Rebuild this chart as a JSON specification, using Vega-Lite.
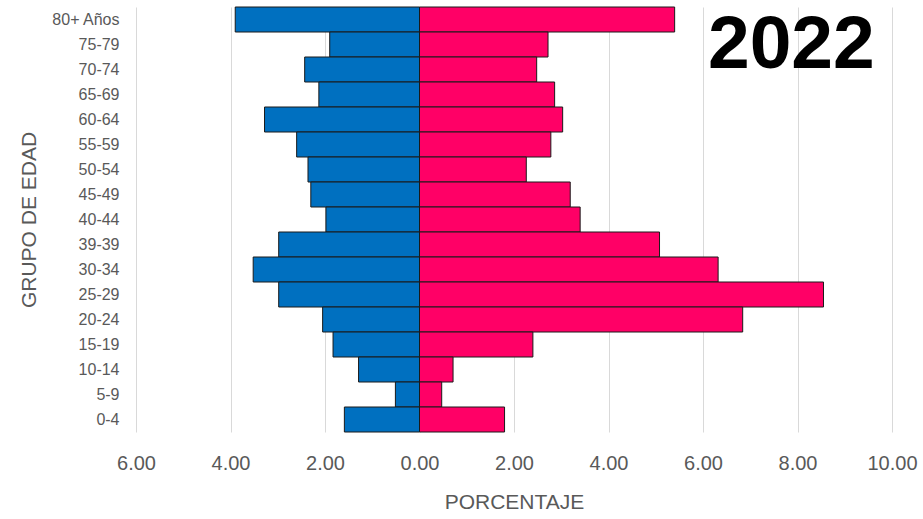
{
  "$schema": "https://vega.github.io/schema/vega-lite/v6.json",
  "width": 756,
  "height": 425,
  "autosize": {"type": "none"},
  "padding": {"left": 136, "top": 7, "right": 31, "bottom": 87},
  "background": "white",
  "config": {
    "view": {"stroke": null},
    "font": "Liberation Sans"
  },
  "datasets": {
    "pyramid": [
      {"grupo": "80+ Años", "sexo": "Hombres", "porcentaje": -3.90},
      {"grupo": "75-79", "sexo": "Hombres", "porcentaje": -1.90},
      {"grupo": "70-74", "sexo": "Hombres", "porcentaje": -2.43},
      {"grupo": "65-69", "sexo": "Hombres", "porcentaje": -2.13},
      {"grupo": "60-64", "sexo": "Hombres", "porcentaje": -3.28},
      {"grupo": "55-59", "sexo": "Hombres", "porcentaje": -2.60},
      {"grupo": "50-54", "sexo": "Hombres", "porcentaje": -2.36},
      {"grupo": "45-49", "sexo": "Hombres", "porcentaje": -2.30},
      {"grupo": "40-44", "sexo": "Hombres", "porcentaje": -1.98},
      {"grupo": "39-39", "sexo": "Hombres", "porcentaje": -2.98},
      {"grupo": "30-34", "sexo": "Hombres", "porcentaje": -3.52},
      {"grupo": "25-29", "sexo": "Hombres", "porcentaje": -2.98},
      {"grupo": "20-24", "sexo": "Hombres", "porcentaje": -2.05},
      {"grupo": "15-19", "sexo": "Hombres", "porcentaje": -1.83},
      {"grupo": "10-14", "sexo": "Hombres", "porcentaje": -1.29},
      {"grupo": "5-9", "sexo": "Hombres", "porcentaje": -0.51},
      {"grupo": "0-4", "sexo": "Hombres", "porcentaje": -1.59},
      {"grupo": "80+ Años", "sexo": "Mujeres", "porcentaje": 5.40},
      {"grupo": "75-79", "sexo": "Mujeres", "porcentaje": 2.72},
      {"grupo": "70-74", "sexo": "Mujeres", "porcentaje": 2.48},
      {"grupo": "65-69", "sexo": "Mujeres", "porcentaje": 2.86},
      {"grupo": "60-64", "sexo": "Mujeres", "porcentaje": 3.03},
      {"grupo": "55-59", "sexo": "Mujeres", "porcentaje": 2.78},
      {"grupo": "50-54", "sexo": "Mujeres", "porcentaje": 2.26},
      {"grupo": "45-49", "sexo": "Mujeres", "porcentaje": 3.19},
      {"grupo": "40-44", "sexo": "Mujeres", "porcentaje": 3.40},
      {"grupo": "39-39", "sexo": "Mujeres", "porcentaje": 5.08},
      {"grupo": "30-34", "sexo": "Mujeres", "porcentaje": 6.32},
      {"grupo": "25-29", "sexo": "Mujeres", "porcentaje": 8.55},
      {"grupo": "20-24", "sexo": "Mujeres", "porcentaje": 6.84},
      {"grupo": "15-19", "sexo": "Mujeres", "porcentaje": 2.40},
      {"grupo": "10-14", "sexo": "Mujeres", "porcentaje": 0.71},
      {"grupo": "5-9", "sexo": "Mujeres", "porcentaje": 0.47},
      {"grupo": "0-4", "sexo": "Mujeres", "porcentaje": 1.80}
    ],
    "titulo": [{"texto": "2022"}]
  },
  "layer": [
    {
      "data": {"name": "pyramid"},
      "mark": {"type": "bar", "stroke": "#1a1a1a", "strokeWidth": 1},
      "encoding": {
        "y": {
          "field": "grupo",
          "type": "nominal",
          "sort": ["80+ Años", "75-79", "70-74", "65-69", "60-64", "55-59", "50-54", "45-49", "40-44", "39-39", "30-34", "25-29", "20-24", "15-19", "10-14", "5-9", "0-4"],
          "scale": {"paddingInner": 0, "paddingOuter": 0},
          "axis": {
            "title": "GRUPO DE EDAD",
            "titleFont": "Liberation Sans",
            "titleFontSize": 21,
            "titleFontWeight": "normal",
            "titleColor": "#595959",
            "titlePadding": 11,
            "labelFont": "Liberation Sans",
            "labelFontSize": 16,
            "labelColor": "#595959",
            "labelPadding": 17,
            "ticks": false,
            "tickSize": 0,
            "domain": false,
            "grid": false
          }
        },
        "x": {
          "field": "porcentaje",
          "type": "quantitative",
          "scale": {"domain": [-6, 10], "nice": false, "zero": false},
          "axis": {
            "title": "PORCENTAJE",
            "titleFont": "Liberation Sans",
            "titleFontSize": 21,
            "titleFontWeight": "normal",
            "titleColor": "#595959",
            "titlePadding": 18,
            "values": [-6, -4, -2, 0, 2, 4, 6, 8, 10],
            "labelExpr": "format(abs(datum.value), '.2f')",
            "labelFlush": false,
            "labelFont": "Liberation Sans",
            "labelFontSize": 20,
            "labelColor": "#595959",
            "labelPadding": 21,
            "ticks": false,
            "tickSize": 0,
            "domain": false,
            "grid": true,
            "gridColor": "#D9D9D9",
            "gridWidth": 1
          }
        },
        "color": {
          "field": "sexo",
          "type": "nominal",
          "scale": {"domain": ["Hombres", "Mujeres"], "range": ["#0070C0", "#FF0066"]},
          "legend": null
        }
      }
    },
    {
      "data": {"name": "titulo"},
      "mark": {"type": "text", "font": "Liberation Sans", "fontSize": 75, "fontWeight": "bold", "color": "black", "align": "center", "baseline": "middle"},
      "encoding": {
        "text": {"field": "texto"},
        "x": {"datum": 7.87},
        "y": {"datum": "75-79"}
      }
    }
  ]
}
